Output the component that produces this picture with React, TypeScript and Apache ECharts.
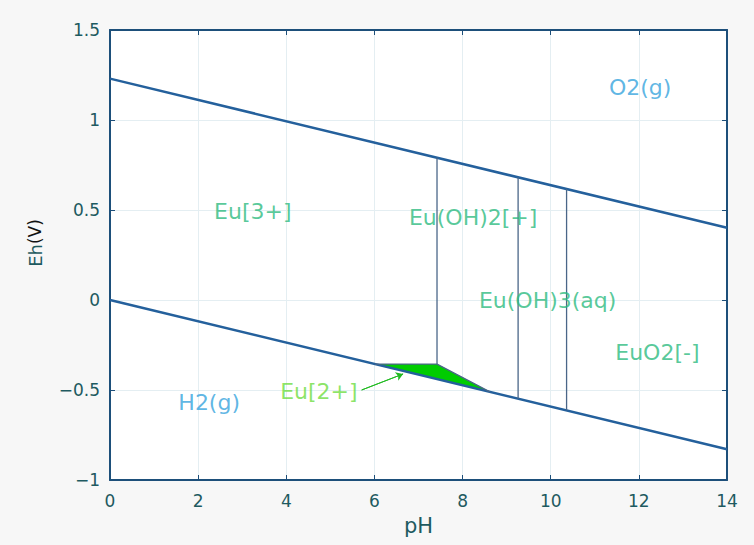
import React, { useEffect, useRef } from "react";
import * as echarts from "echarts";

const xTicks = [0, 2, 4, 6, 8, 10, 12, 14];
const yTicks = [-1, -0.5, 0, 0.5, 1, 1.5];

// Water stability lines: [pH, Eh]
const o2Line = [[0, 1.23], [14, 0.401]];
const h2Line = [[0, 0], [14, -0.829]];

// Species boundaries
const boundary1 = [[7.42, 0.791], [7.42, -0.356]];
const boundary2 = [[9.26, 0.682], [9.26, -0.548]];
const boundary3 = [[10.36, 0.617], [10.36, -0.613]];
const eu2Boundary = [[6.01, -0.356], [7.42, -0.356], [8.62, -0.51]];

// Eu[2+] field polygon
const eu2Field = [[6.01, -0.356], [7.42, -0.356], [8.62, -0.51]];

// Region labels: [pH, Eh, text]
const speciesLabels = [
  [8.24, 0.456, "Eu(OH)2[+]"],
  [3.24, 0.489, "Eu[3+]"],
  [9.93, 0.0, "Eu(OH)3(aq)"],
  [12.42, -0.289, "EuO2[-]"],
];
const gasLabels = [
  [12.03, 1.183, "O2(g)"],
  [2.25, -0.567, "H2(g)"],
];
const eu2Label = [[4.74, -0.506, "Eu[2+]"]];
const eu2Arrow = [[5.71, -0.5], [6.65, -0.411]];

const FONT = "DejaVu Sans";
const LINE_COLOR = "#24609c";
const BOUND_COLOR = "#4a6688";
const AXIS_COLOR = "#1d4f7a";
const TICK_TEXT = "#1e5a60";

function labelSeries(data: any[], color: string) {
  return {
    type: "scatter",
    data,
    symbolSize: 0,
    silent: true,
    z: 10,
    label: {
      show: true,
      position: "inside",
      formatter: (p: any) => p.value[2],
      color,
      fontSize: 22,
      fontFamily: FONT,
    },
  };
}

export default function App() {
  const ref = useRef<HTMLDivElement>(null);
  useEffect(() => {
    if (!ref.current) return;
    const chart = echarts.init(ref.current, null, { renderer: "svg" });
    const lineSeries = (data: number[][], color: string, width: number) => ({
      type: "line",
      data,
      symbol: "none",
      silent: true,
      lineStyle: { color, width },
      z: 5,
    });
    chart.setOption({
      animation: false,
      backgroundColor: "#f7f7f7",
      grid: {
        left: 110,
        right: 27,
        top: 30,
        bottom: 65,
        show: true,
        backgroundColor: "#ffffff",
        borderWidth: 0,
      },
      graphic: [
        {
          type: "text",
          x: 35,
          y: 243,
          rotation: Math.PI / 2,
          silent: true,
          style: {
            text: "{a|Eh}{b|(V)}",
            align: "center",
            verticalAlign: "middle",
            rich: {
              a: { fontSize: 18, fontFamily: FONT, fill: TICK_TEXT },
              b: { fontSize: 17, fontFamily: FONT, fill: "#111111" },
            },
          },
        },
      ],
      xAxis: [
        {
          type: "value",
          min: 0,
          max: 14,
          interval: 2,
          name: "pH",
          nameLocation: "middle",
          nameGap: 35,
          nameTextStyle: { fontSize: 21, color: TICK_TEXT, fontFamily: FONT },
          axisLine: { show: true, onZero: false, lineStyle: { color: AXIS_COLOR, width: 2 } },
          axisTick: { show: true, inside: true, length: 5, lineStyle: { color: AXIS_COLOR } },
          axisLabel: {
            color: TICK_TEXT,
            fontSize: 17,
            fontFamily: FONT,
            margin: 12,
            formatter: (v: number) => (xTicks.includes(v) ? String(v) : ""),
          },
          splitLine: { show: true, lineStyle: { color: "#e4eef2", width: 1 } },
        },
        {
          type: "value",
          position: "top",
          min: 0,
          max: 14,
          interval: 2,
          axisLine: { show: true, onZero: false, lineStyle: { color: AXIS_COLOR, width: 2 } },
          axisTick: { show: true, inside: true, length: 5, lineStyle: { color: AXIS_COLOR } },
          axisLabel: { show: false },
          splitLine: { show: false },
        },
      ],
      yAxis: [
        {
          type: "value",
          min: -1,
          max: 1.5,
          interval: 0.5,
          axisLine: { show: true, onZero: false, lineStyle: { color: AXIS_COLOR, width: 2 } },
          axisTick: { show: true, inside: true, length: 5, lineStyle: { color: AXIS_COLOR } },
          axisLabel: {
            color: TICK_TEXT,
            fontSize: 17,
            fontFamily: FONT,
            margin: 10,
            formatter: (v: number) => {
              if (!yTicks.some((t) => Math.abs(t - v) < 1e-9)) return "";
              return v < 0 ? "\u2212" + String(-v) : String(v);
            },
          },
          splitLine: { show: true, lineStyle: { color: "#e4eef2", width: 1 } },
        },
        {
          type: "value",
          position: "right",
          min: -1,
          max: 1.5,
          interval: 0.5,
          axisLine: { show: true, onZero: false, lineStyle: { color: AXIS_COLOR, width: 2 } },
          axisTick: { show: true, inside: true, length: 5, lineStyle: { color: AXIS_COLOR } },
          axisLabel: { show: false },
          splitLine: { show: false },
        },
      ],
      series: [
        {
          type: "custom",
          silent: true,
          z: 4,
          data: eu2Field,
          renderItem: (params: any, api: any) => {
            if (params.dataIndex !== 0) return null;
            const pts = eu2Field.map((p) => api.coord(p));
            return {
              type: "polygon",
              shape: { points: pts },
              style: { fill: "#00cc00", stroke: "none" },
            };
          },
        },
        lineSeries(o2Line, LINE_COLOR, 2.5),
        lineSeries(h2Line, LINE_COLOR, 2.5),
        lineSeries(boundary1, BOUND_COLOR, 1.3),
        lineSeries(boundary2, BOUND_COLOR, 1.3),
        lineSeries(boundary3, BOUND_COLOR, 1.3),
        lineSeries(eu2Boundary, BOUND_COLOR, 1.3),
        {
          type: "line",
          data: eu2Arrow,
          symbol: "none",
          silent: true,
          lineStyle: { color: "#22bb22", width: 1 },
          z: 6,
          markLine: {
            silent: true,
            symbol: ["none", "arrow"],
            symbolSize: 7,
            label: { show: false },
            lineStyle: { color: "#22bb22", width: 1, type: "solid" },
            data: [[{ coord: eu2Arrow[0] }, { coord: eu2Arrow[1] }]],
          },
        },
        labelSeries(speciesLabels, "#2dbb80"),
        labelSeries(gasLabels, "#35a3dd"),
        labelSeries(eu2Label, "#6edd40"),
      ],
    });
    return () => chart.dispose();
  }, []);
  return <div ref={ref} style={{ width: 754, height: 545, position: "absolute", left: 0, top: 0 }} />;
}
